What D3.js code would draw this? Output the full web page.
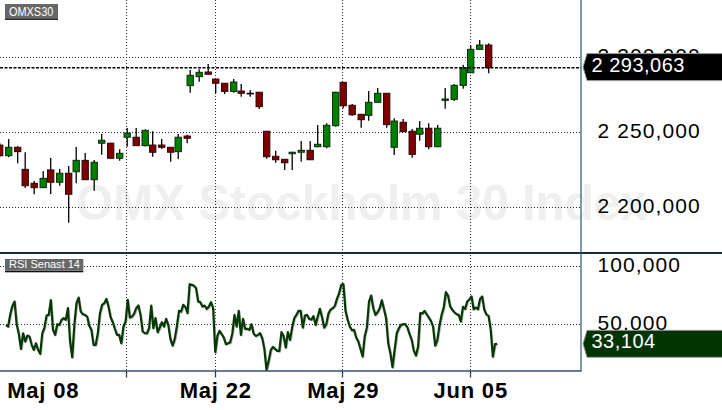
<!DOCTYPE html>
<html><head><meta charset="utf-8">
<script src="https://cdn.jsdelivr.net/npm/d3@7"></script>
<style>body{margin:0;background:#fff}svg{display:block;font-family:"Liberation Sans",Arial,sans-serif}</style>
</head><body><svg id="c" width="722" height="410"></svg>
<script>
// ---- DATA ----
const days = ["Maj 08","Maj 09","Maj 10","Maj 11","Maj 12","Maj 15","Maj 16","Maj 17","Maj 19","Maj 22","Maj 23","Maj 24","Maj 25","Maj 26","Maj 29","Maj 30","Maj 31","Jun 01","Jun 02","Jun 05"];
const dayHours = [8.5,8.5,8.5,8.5,8.5,8.5,8.5,4,8.5,8.5,8.5,8.5,8.5,8.5,8.5,8.5,8.5,8.5,8.5,8.5];
const dayBars  = [3,3,3,3,3,3,3,2,3,3,3,3,3,3,3,3,3,3,3,3];
const barHours = 3;

const open  = [2241.5,2234.4,2240.0,2225.3,2216.0,2213.1,2224.9,2216.7,2222.7,2223.7,2231.3,2218.4,2242.7,2242.7,2232.7,2246.7,2246.7,2241.1,2241.5,2241.5,2240.0,2237.1,2247.5,2281.1,2287.1,2290.2,2285.5,2282.7,2277.3,2277.5,2276.0,2276.7,2250.7,2234.0,2232.0,2235.7,2236.7,2238.0,2240.4,2240.4,2254.4,2283.3,2268.0,2262.0,2261.3,2270.0,2276.0,2240.0,2256.7,2250.7,2248.7,2252.7,2240.4,2271.3,2272.0,2281.3,2289.7,2305.3,2308.2];
const high  = [2242.9,2245.5,2240.9,2236.7,2217.5,2224.2,2232.9,2225.5,2227.5,2240.2,2236.2,2231.5,2248.9,2243.1,2238.7,2252.9,2252.9,2251.9,2250.7,2245.5,2240.0,2248.9,2248.4,2291.5,2292.0,2295.5,2285.5,2282.7,2285.5,2282.2,2278.2,2276.7,2250.7,2237.7,2232.0,2237.1,2244.2,2244.2,2254.9,2256.0,2277.1,2283.3,2268.9,2262.0,2277.5,2279.5,2276.0,2259.3,2258.9,2252.2,2257.5,2256.0,2254.9,2279.5,2282.2,2295.1,2308.2,2311.5,2309.3];
const low   = [2233.5,2233.3,2229.3,2212.9,2208.7,2212.9,2208.9,2214.4,2189.7,2216.0,2218.4,2211.1,2235.1,2232.7,2231.1,2240.4,2241.1,2240.5,2233.7,2238.9,2230.4,2232.2,2242.7,2276.4,2283.7,2288.7,2276.0,2275.5,2276.4,2273.7,2273.7,2265.5,2232.4,2229.7,2224.9,2224.9,2230.4,2231.7,2240.0,2239.3,2253.7,2266.0,2260.9,2253.1,2257.7,2270.0,2253.1,2234.9,2250.4,2233.1,2244.4,2238.7,2240.0,2265.7,2270.9,2279.1,2289.7,2305.3,2289.3];
const close = [2234.4,2240.0,2237.1,2214.4,2213.1,2219.3,2216.7,2222.7,2208.7,2231.3,2218.4,2230.0,2244.7,2232.7,2236.0,2249.5,2241.1,2251.3,2236.7,2240.0,2236.7,2246.7,2246.0,2288.0,2290.0,2288.7,2282.7,2277.3,2283.5,2276.0,2276.0,2267.1,2233.7,2231.7,2229.7,2236.7,2238.0,2231.7,2242.0,2254.7,2276.7,2267.7,2261.7,2258.4,2270.0,2276.0,2255.1,2257.5,2250.4,2235.3,2252.7,2240.4,2252.7,2272.2,2281.3,2292.9,2305.3,2308.2,2293.063];

const rsi = [
49.4,48.0,58.6,65.8,69.5,50.0,41.4,28.7,42.2,35.1,
40.2,39.4,32.2,27.9,33.6,27.9,24.5,42.2,47.1,57.5,
58.0,70.7,45.1,40.8,50.0,49.4,53.7,55.2,53.7,63.8,
35.1,21.5,49.4,68.1,73.0,60.9,58.6,58.0,56.6,48.6,
45.1,32.2,32.2,42.2,59.5,66.7,68.1,71.8,65.2,56.0,
51.7,46.0,40.8,40.8,33.6,48.0,
52.3,71.0,55.7,56.6,59.2,63.8,66.1,58.0,43.7,42.2,
42.2,46.6,66.1,46.6,55.2,43.1,47.1,51.7,48.0,54.6,
49.4,37.1,31.6,37.1,48.0,61.5,60.9,66.7,64.9,59.5,
84.5,83.9,83.3,81.0,69.5,69.0,65.2,66.1,63.2,65.2,
69.0,63.8,26.0,40.0,44.3,41.4,38.5,32.8,33.6,34.5,
42.2,58.0,48.0,61.5,40.8,54.6,46.0,46.0,45.1,
50.0,41.7,39.9,40.8,42.2,37.9,28.7,10.5,18.4,27.6,
30.5,28.7,27.0,27.0,43.1,39.7,29.9,43.1,36.5,47.1,
55.2,58.0,61.5,61.5,47.1,57.5,58.0,54.6,54.0,56.9,
49.4,56.6,63.2,56.0,47.1,50.0,59.2,62.6,63.8,65.8,
71.8,76.7,84.0,84.5,61.5,53.7,48.0,44.8,45.1,38.5,
35.1,28.7,22.1,39.7,47.1,69.5,74.7,63.8,
58.0,60.3,63.8,70.7,63.2,55.2,33.6,25.0,13.0,27.9,
42.2,46.6,49.4,50.0,50.0,47.1,41.4,36.5,27.0,23.0,
30.7,59.5,59.2,61.5,58.6,55.7,52.9,48.0,31.6,36.2,
48.9,58.0,64.4,77.6,74.7,65.5,62.4,60.3,58.6,58.0,
52.3,64.9,63.2,69.5,71.3,74.0,62.9,64.4,62.9,71.8,
73.9,62.4,58.3,57.2,45.1,22.0,32.8,33.104];
const rsiStartHour = 2.1, rsiEndHour = 165.8;

const priceTicks = [2200, 2250, 2300];
const rsiTicks = [50, 100];
const gridDays = ["Maj 15","Maj 22","Maj 29","Jun 05"];
const labelDays = ["Maj 08","Maj 22","Maj 29","Jun 05"];
const titleText = "OMXS30", rsiTitleText = "RSI Senast 14", watermarkText = "OMX Stockholm 30 Index";

// ---- DERIVED ----
const dayStart = {}; let acc = 0;
const candleHours = [];
days.forEach((d,i)=>{ dayStart[d]=acc; for(let b=0;b<dayBars[i];b++) candleHours.push(acc+b*barHours); acc+=dayHours[i]; });
const candles = open.map((o,i)=>({h:candleHours[i],o,hi:high[i],lo:low[i],c:close[i]}));
const lastPrice = close[close.length-1], lastRsi = rsi[rsi.length-1];

// ---- LAYOUT ----
const W=722, H=410, plotR=581, topB=253, rsiB=371;
const svg = d3.select("#c");
const x = d3.scaleLinear().domain([0,194]).range([-0.3,581.7]);
const yP = d3.scaleLinear().domain([2200,2300]).range([207.3,57.3]);
const yR = d3.scaleLinear().domain([50,100]).range([324.2,266.2]);
const rsiX = d3.scaleLinear().domain([0,rsi.length-1]).range([x(rsiStartHour),x(rsiEndHour)]);
const loc = d3.formatLocale({decimal:",",thousands:" ",grouping:[3],currency:["",""]});
const fmt = loc.format(",.3f");

const defs = svg.append("defs");
defs.append("clipPath").attr("id","cpTop").append("rect").attr("x",0).attr("y",0).attr("width",plotR).attr("height",topB);
defs.append("clipPath").attr("id","cpRsi").append("rect").attr("x",0).attr("y",topB+1).attr("width",plotR).attr("height",rsiB-topB-1);

// watermark
svg.append("text").attr("x",361.5).attr("y",220).attr("text-anchor","middle")
  .attr("font-size",50).attr("font-weight","bold").attr("fill","#efefef")
  .attr("textLength",571).attr("lengthAdjust","spacingAndGlyphs").text(watermarkText);

// grids
const grid = svg.append("g").attr("stroke","#1d2c3c").attr("stroke-width",1).attr("stroke-dasharray","1,2").attr("shape-rendering","crispEdges");
grid.selectAll(".hp").data(priceTicks).join("line").attr("x1",0).attr("x2",plotR)
  .attr("y1",d=>Math.round(yP(d))+0.5).attr("y2",d=>Math.round(yP(d))+0.5);
grid.selectAll(".hr").data(rsiTicks).join("line").attr("class","hr").attr("x1",0).attr("x2",plotR)
  .attr("y1",d=>Math.round(yR(d))+0.5).attr("y2",d=>Math.round(yR(d))+0.5);
grid.selectAll(".v").data(gridDays).join("line").attr("class","v")
  .attr("x1",d=>Math.round(x(dayStart[d]))-0.5).attr("x2",d=>Math.round(x(dayStart[d]))-0.5)
  .attr("y1",0).attr("y2",rsiB);

// candles
const cg = svg.append("g").attr("clip-path","url(#cpTop)");
cg.selectAll(".wick").data(candles).join("line").attr("class","wick")
  .attr("x1",d=>x(d.h)).attr("x2",d=>x(d.h)).attr("y1",d=>yP(d.hi)).attr("y2",d=>yP(d.lo))
  .attr("stroke","#000").attr("stroke-width",1.3);
cg.selectAll(".body").data(candles).join("rect").attr("class","body")
  .attr("x",d=>x(d.h)-3.15).attr("width",6.3)
  .attr("y",d=>yP(Math.max(d.o,d.c))).attr("height",d=>Math.max(0.6,Math.abs(yP(d.o)-yP(d.c))))
  .attr("fill",d=>d.c>d.o?"#008000":d.c<d.o?"#800000":"#000")
  .attr("stroke",d=>d.c>d.o?"#0a2a0a":d.c<d.o?"#2a0505":"#000").attr("stroke-width",1);

// last price dashed line
svg.append("line").attr("x1",0).attr("x2",plotR).attr("y1",yP(lastPrice)).attr("y2",yP(lastPrice))
  .attr("stroke","#000").attr("stroke-width",1.4).attr("stroke-dasharray","3,1.5");

// RSI line
const rg = svg.append("g").attr("clip-path","url(#cpRsi)");
const line = d3.line().x((d,i)=>rsiX(i)).y(d=>yR(d));
rg.append("path").attr("d",line(rsi)).attr("fill","none").attr("stroke","#b8b8b8").attr("stroke-width",2)
  .attr("transform","translate(0.8,0.8)").attr("stroke-linejoin","round");
rg.append("path").attr("d",line(rsi)).attr("fill","none").attr("stroke","#063806").attr("stroke-width",2.2).attr("stroke-linejoin","round");

// frame
svg.append("line").attr("x1",0).attr("x2",W).attr("y1",topB).attr("y2",topB).attr("stroke","#12303f").attr("stroke-width",2);
svg.append("line").attr("x1",0).attr("x2",plotR+0.5).attr("y1",rsiB).attr("y2",rsiB).attr("stroke","#34507a").attr("stroke-width",1.4);
svg.append("line").attr("x1",plotR).attr("x2",plotR).attr("y1",0).attr("y2",rsiB).attr("stroke","#34507a").attr("stroke-width",1.2);
svg.selectAll(".tk").data(gridDays).join("line").attr("class","tk")
  .attr("x1",d=>Math.round(x(dayStart[d]))-0.5).attr("x2",d=>Math.round(x(dayStart[d]))-0.5)
  .attr("y1",rsiB).attr("y2",rsiB+6.5).attr("stroke","#2b3f55").attr("stroke-width",1.3);

// x labels
svg.selectAll(".xl").data(labelDays).join("text").attr("class","xl")
  .attr("x",d=>{const p=x(dayStart[d]); return p<40?p+7.5:p;})
  .attr("text-anchor",d=>x(dayStart[d])<40?"start":"middle")
  .attr("y",398).attr("font-size",22).attr("font-weight","bold").attr("letter-spacing",0.8).attr("fill","#000")
  .text(d=>d);

// y labels
const yl = svg.append("g").attr("font-size",21).attr("letter-spacing",1.1).attr("fill","#000");
yl.selectAll(".pl").data(priceTicks).join("text").attr("class","pl").attr("x",597.5).attr("y",d=>yP(d)+5.5).text(d=>fmt(d));
yl.selectAll(".rl").data(rsiTicks).join("text").attr("class","rl").attr("x",597.5).attr("y",d=>yR(d)+5.5).text(d=>fmt(d));

// value badges
function badge(yc, fill, txt){
  const g = svg.append("g");
  const h = 13.5;
  g.append("path").attr("d",`M${plotR+2},${yc} L${plotR+6},${yc-h} L${W+2},${yc-h} L${W+2},${yc+h} L${plotR+6},${yc+h} Z`)
    .attr("fill",fill).attr("stroke","#9a9a9a").attr("stroke-width",1);
  g.append("text").attr("x",591.5).attr("y",yc+4.6).attr("font-size",20).attr("letter-spacing",0.5).attr("fill","#fff").text(txt);
}
badge(yP(lastPrice)-0.6, "#000", fmt(lastPrice));
badge(yR(lastRsi), "#023402", fmt(lastRsi));

// title tags
function tag(x0,y0,w,h,fs,tl,txt){
  svg.append("rect").attr("x",x0).attr("y",y0+h).attr("width",w).attr("height",1.6).attr("fill","#111");
  svg.append("rect").attr("x",x0).attr("y",y0).attr("width",w).attr("height",h).attr("fill","#676767");
  svg.append("text").attr("x",x0+4).attr("y",y0+h-2.3).attr("font-size",fs).attr("fill","#fff")
    .attr("textLength",tl).attr("lengthAdjust","spacingAndGlyphs").text(txt);
}
tag(5,4,53,14.3,13,44.3,titleText);
tag(5,259,78.3,11.7,11,71,rsiTitleText);
</script></body></html>
